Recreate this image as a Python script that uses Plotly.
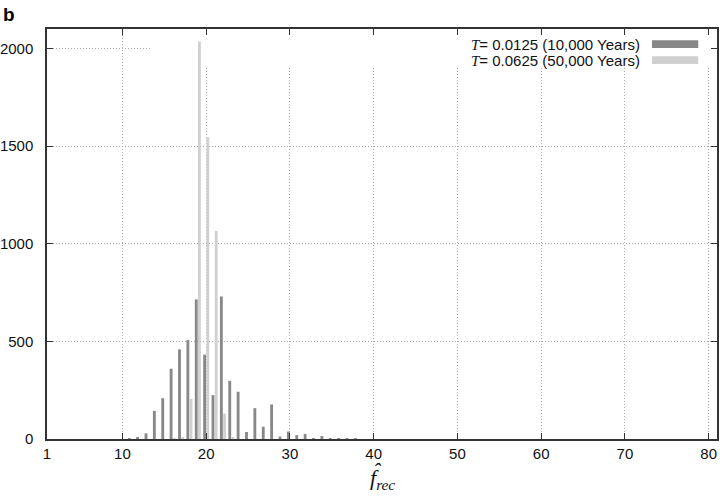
import plotly.graph_objects as go

# ---- data ----
n_dark = list(range(10, 39))
dark_counts = [0, 1, 7, 29, 144, 209, 360, 459, 507, 715, 432, 225, 730, 298, 242,
               36, 158, 63, 177, 13, 38, 20, 26, 3, 15, 4, 1, 1, 5]
n_light = list(range(16, 24))
light_counts = [1, 6, 206, 2036, 1546, 1066, 130, 6]

series_T = ["0.0125", "0.0625"]
series_years = ["10,000", "50,000"]
series_colors = ["#888888", "#d0d0d0"]

x_ticks = [1, 10, 20, 30, 40, 50, 60, 70, 80]
y_ticks = [0, 500, 1000, 1500, 2000]

# ---- figure ----
fig = go.Figure()
fig.add_trace(go.Bar(x=n_dark, y=dark_counts, marker=dict(color=series_colors[0], line=dict(width=0)),
                     width=0.34, offset=-0.35, showlegend=False))
fig.add_trace(go.Bar(x=n_light, y=light_counts, marker=dict(color=series_colors[1], line=dict(width=0)),
                     width=0.34, offset=0.03, showlegend=False))

axis_common = dict(showline=True, linecolor="#333333", linewidth=1.5, mirror="ticks",
                   ticks="inside", ticklen=6, tickwidth=1.2, tickcolor="#333333",
                   showgrid=True, gridcolor="#a8a8a8", gridwidth=1, griddash="1px,2px",
                   zeroline=False, automargin=False,
                   tickfont=dict(family="Liberation Sans, Arial", size=15, color="#111111"))

fig.update_xaxes(range=[1, 81], tickmode="array", tickvals=x_ticks, ticklabelstandoff=0, **axis_common)
fig.update_yaxes(range=[0, 2100], tickmode="array", tickvals=y_ticks, ticklabelstandoff=9, **axis_common)

# white key background hiding grid lines (gnuplot style)
fig.add_shape(type="rect", xref="x", yref="y", x0=13.3, x1=81, y0=1901, y1=2100,
              fillcolor="white", line=dict(width=0), layer="between")

# key entries
key_y = [0.963, 0.924]
for i in range(2):
    fig.add_annotation(xref="paper", yref="paper", x=0.888, y=key_y[i], xanchor="right", yanchor="middle",
                       showarrow=False,
                       text="<span style='font-family:Liberation Serif'><i>T</i></span>= %s (%s Years)"
                            % (series_T[i], series_years[i]),
                       font=dict(family="Liberation Sans, Arial", size=15, color="#111111"))
    fig.add_shape(type="rect", xref="paper", yref="paper", x0=0.903, x1=0.972,
                  y0=key_y[i] - 0.0095, y1=key_y[i] + 0.0095,
                  fillcolor=series_colors[i], line=dict(width=0))

# x-axis title (f with hat, subscript rec)
fig.add_annotation(xref="paper", yref="paper", x=0.5, y=-0.098, xanchor="center", yanchor="middle",
                   showarrow=False, text="<i>f</i><sub><i>rec</i></sub>",
                   font=dict(family="Liberation Serif, Times New Roman, serif", size=22, color="#111111"))
fig.add_annotation(xref="paper", yref="paper", x=0.4935, y=-0.078, xanchor="center", yanchor="middle",
                   showarrow=False, text="<i>\u02c6</i>",
                   font=dict(family="Liberation Serif, Times New Roman, serif", size=22, color="#111111"))

# panel label
fig.add_annotation(xref="paper", yref="paper", x=-0.068, y=1.066, xanchor="left", yanchor="top",
                   showarrow=False, text="<b>b</b>",
                   font=dict(family="Liberation Sans, Arial", size=19, color="#000000"))

fig.update_layout(width=720, height=496, margin=dict(l=47, r=3, t=29, b=57),
                  paper_bgcolor="white", plot_bgcolor="white", barmode="overlay",
                  showlegend=False)

fig.write_html("out.html", config={"displayModeBar": False},
               post_script="document.body.style.margin='0px';")
